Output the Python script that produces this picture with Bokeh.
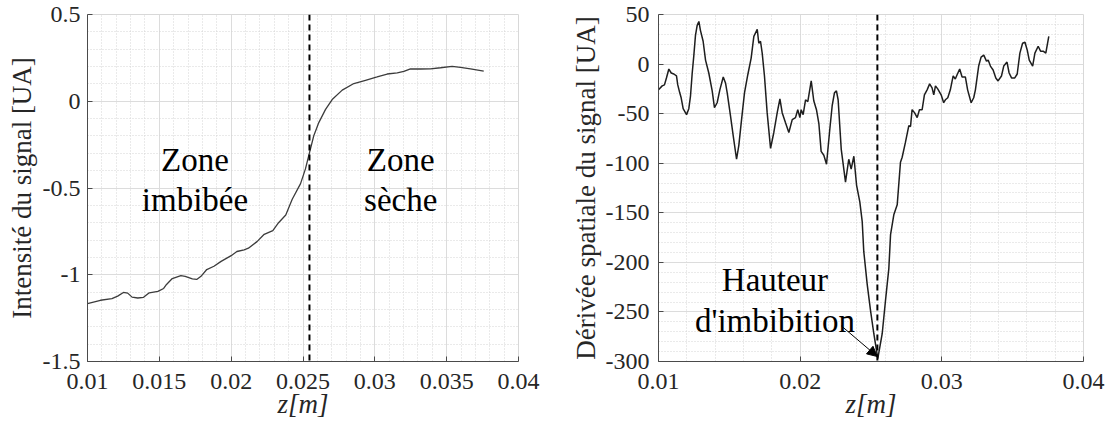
import numpy as np
from bokeh.plotting import figure
from bokeh.layouts import row
from bokeh.models import (Range1d, FixedTicker, CustomJSTickFormatter, Span,
                          Arrow, NormalHead)
from bokeh.core.properties import value
from bokeh.embed import file_html
from bokeh.resources import INLINE

# ---------------- data ----------------
z_int = [0.0100, 0.0109, 0.0117, 0.0121, 0.0125, 0.0128, 0.0131, 0.0135, 0.0139,
         0.0143, 0.0149, 0.0153, 0.0155, 0.0159, 0.0165, 0.0168, 0.0173, 0.0176,
         0.0179, 0.0183, 0.0188, 0.0193, 0.0200, 0.0204, 0.0209, 0.0212, 0.0218,
         0.0223, 0.0229, 0.0233, 0.0238, 0.02425, 0.02483, 0.02517, 0.0254,
         0.02575, 0.0261, 0.02657, 0.02703, 0.02773, 0.02854, 0.02935, 0.03016,
         0.03086, 0.03156, 0.03202, 0.03248, 0.03318, 0.03387, 0.03457, 0.03538,
         0.03596, 0.03666, 0.03758]
intensite = [-1.167, -1.147, -1.138, -1.123, -1.102, -1.106, -1.129, -1.134, -1.130,
             -1.104, -1.096, -1.079, -1.056, -1.022, -1.005, -1.009, -1.024, -1.027,
             -1.009, -0.970, -0.951, -0.923, -0.890, -0.866, -0.856, -0.847, -0.809,
             -0.767, -0.746, -0.700, -0.656, -0.565, -0.475, -0.390, -0.313,
             -0.199, -0.123, -0.047, 0.010, 0.064, 0.102, 0.121, 0.140,
             0.157, 0.163, 0.172, 0.187, 0.186, 0.187, 0.193, 0.201,
             0.195, 0.187, 0.174]

z_der = [0.01000, 0.01026, 0.01042, 0.01056, 0.01073, 0.01090, 0.01108, 0.01127,
         0.01136, 0.01150, 0.01160, 0.01174, 0.01198, 0.01214, 0.01226, 0.01238,
         0.01249, 0.01261, 0.01273, 0.01285, 0.01296, 0.01315, 0.01332, 0.01355,
         0.01379, 0.01395, 0.01414, 0.01433, 0.01457, 0.01473, 0.01485, 0.01508,
         0.01527, 0.01551, 0.01567, 0.01584, 0.01607, 0.01630, 0.01654, 0.01673,
         0.01697, 0.01708, 0.01720, 0.01732, 0.01748, 0.01767, 0.01791, 0.01814,
         0.01838, 0.01857, 0.01873, 0.01896, 0.01920, 0.01944, 0.01967, 0.01983,
         0.01998, 0.02007, 0.02021, 0.02038, 0.02054, 0.02078, 0.02096, 0.02115,
         0.02132, 0.02148, 0.02167, 0.02186, 0.02209, 0.02226, 0.02242, 0.02256,
         0.02268, 0.02290, 0.02320, 0.02343, 0.02360, 0.02379, 0.02398, 0.02421,
         0.02438, 0.02449, 0.02473, 0.02497, 0.02520, 0.02548, 0.02579, 0.02602,
         0.02626, 0.02638, 0.02661, 0.02685, 0.02708, 0.02720, 0.02743, 0.02767,
         0.02779, 0.02790, 0.02807, 0.02826, 0.02842, 0.02861, 0.02877, 0.02896,
         0.02914, 0.02931, 0.02943, 0.02955, 0.02971, 0.02995, 0.03013, 0.03025,
         0.03042, 0.03060, 0.03080, 0.03095, 0.03107, 0.03126, 0.03143, 0.03166,
         0.03182, 0.03207, 0.03225, 0.03237, 0.03260, 0.03277, 0.03296, 0.03315,
         0.03327, 0.03343, 0.03362, 0.03381, 0.03397, 0.03421, 0.03437, 0.03460,
         0.03475, 0.03492, 0.03515, 0.03532, 0.03551, 0.03570, 0.03587, 0.03603,
         0.03617, 0.03641, 0.03657, 0.03680, 0.03697, 0.03715, 0.03734, 0.03755]
derivee = [-26, -22, -21, -14, -5, -9, -10, -12,
           -21, -29, -34, -45, -51, -45, -32, -9,
           8, 29, 39, 43, 34, 23, 4, -9,
           -27, -44, -39, -26, -13, -19, -29, -52,
           -72, -96, -82, -59, -29, -11, 6, 28,
           35, 21, 23, 11, -12, -49, -85, -69,
           -49, -35, -49, -59, -69, -56, -54, -46,
           -54, -46, -51, -36, -38, -17, -37, -46,
           -60, -88, -92, -101, -66, -42, -29, -27,
           -36, -86, -119, -96, -106, -93, -122, -139,
           -159, -189, -222, -249, -272, -297, -272, -239,
           -206, -172, -152, -142, -99, -94, -79, -62,
           -63, -46, -49, -54, -46, -46, -31, -26,
           -20, -24, -31, -22, -25, -31, -39, -36,
           -34, -26, -12, -15, -11, -5, -13, -13,
           -26, -39, -34, -26, -2, 7, 9, 3,
           4, -2, -6, -14, -17, -12, -2, 2,
           -9, -14, -14, -10, 11, 21, 22, 14,
           4, -2, 11, 18, 13, 13, 11, 28]

z_imbibition = 0.02545

x_ticks_left = [0.01, 0.015, 0.02, 0.025, 0.03, 0.035, 0.04]
y_ticks_left = [-1.5, -1, -0.5, 0, 0.5]
x_ticks_right = [0.01, 0.02, 0.03, 0.04]
y_ticks_right = [-300, -250, -200, -150, -100, -50, 0, 50]

# ---------------- styling ----------------
SERIF = "Liberation Serif"
fmt = CustomJSTickFormatter(code="return String(parseFloat(tick.toFixed(6)));")


def minor(ticks, n=5):
    out = []
    for a, b in zip(ticks[:-1], ticks[1:]):
        out.extend(np.linspace(a, b, n + 1)[1:-1].tolist())
    return out


def style(p, xt, yt, ylab_standoff, ytick_standoff):
    p.xaxis.ticker = FixedTicker(ticks=xt, minor_ticks=minor(xt))
    p.yaxis.ticker = FixedTicker(ticks=yt, minor_ticks=minor(yt))
    for ax in (p.xaxis[0], p.yaxis[0]):
        ax.formatter = fmt
        ax.major_label_text_font = SERIF
        ax.major_label_text_font_size = "24px"
        ax.major_label_text_color = "#262626"
        ax.axis_label_text_font = SERIF
        ax.axis_label_text_font_size = "27px"
        ax.axis_label_text_color = "#262626"
        ax.axis_line_color = "#4a4a4a"
        ax.axis_line_width = 1
        ax.major_tick_line_color = "#4a4a4a"
        ax.major_tick_out = 0
        ax.major_tick_in = 5
        ax.minor_tick_out = 0
        ax.minor_tick_in = 0
    p.xaxis.major_label_standoff = 12
    p.yaxis.major_label_standoff = ytick_standoff
    p.xaxis.axis_label_standoff = -3
    p.yaxis.axis_label_standoff = ylab_standoff
    p.xaxis.axis_label = "z[m]"
    p.xaxis.axis_label_text_font_style = "italic"
    p.yaxis.axis_label_text_font_style = "normal"
    for g in (p.xgrid[0], p.ygrid[0]):
        g.grid_line_color = "#dcdcdc"
        g.grid_line_width = 1
        g.minor_grid_line_color = "#d4d4d4"
        g.minor_grid_line_dash = "1 2"
        g.minor_grid_line_width = 1
    p.outline_line_color = "#d8d8d8"
    p.background_fill_color = "white"
    p.border_fill_color = "white"


# ---------------- left figure ----------------
p1 = figure(width=556, height=432, output_backend="svg", toolbar_location=None,
            x_range=Range1d(0.01, 0.04), y_range=Range1d(-1.5, 0.5),
            min_border_left=87, min_border_right=38, min_border_top=14,
            min_border_bottom=71)
style(p1, x_ticks_left, y_ticks_left, 3, 7)
p1.yaxis.axis_label = "Intensité du signal [UA]"
p1.line(z_int, intensite, line_color="#3c3c3c", line_width=1.3)
p1.add_layout(Span(location=z_imbibition, dimension="height", line_color="black",
                   line_width=2, line_dash="6 4"))
p1.text(x=[0.01748, 0.01748], y=[-0.34, -0.569], text=["Zone", "imbibée"],
        text_font=value(SERIF), text_font_size="33px", text_align="center",
        text_baseline="alphabetic", text_color="black")
p1.text(x=[0.0318, 0.0318], y=[-0.34, -0.569], text=["Zone", "sèche"],
        text_font=value(SERIF), text_font_size="33px", text_align="center",
        text_baseline="alphabetic", text_color="black")

# ---------------- right figure ----------------
p2 = figure(width=556, height=432, output_backend="svg", toolbar_location=None,
            x_range=Range1d(0.01, 0.04), y_range=Range1d(-300, 50),
            min_border_left=102, min_border_right=29, min_border_top=14,
            min_border_bottom=71)
style(p2, x_ticks_right, y_ticks_right, 2, 9)
p2.yaxis.axis_label = "Dérivée spatiale du signal [UA]"
p2.line(z_der, derivee, line_color="#1e1e1e", line_width=1.5)
p2.add_layout(Span(location=z_imbibition, dimension="height", line_color="black",
                   line_width=2, line_dash="6 4"))
p2.text(x=[0.01822, 0.01822], y=[-218, -259], text=["Hauteur", "d'imbibition"],
        text_font=value(SERIF), text_font_size="33px", text_align="center",
        text_baseline="alphabetic", text_color="black")
p2.add_layout(Arrow(end=NormalHead(size=10, fill_color="black", line_color="black"),
                    x_start=0.0229, y_start=-264, x_end=z_imbibition, y_end=-295,
                    line_color="black", line_width=1))

layout = row(p1, p2)
open("out.html", "w").write(file_html(layout, INLINE))
